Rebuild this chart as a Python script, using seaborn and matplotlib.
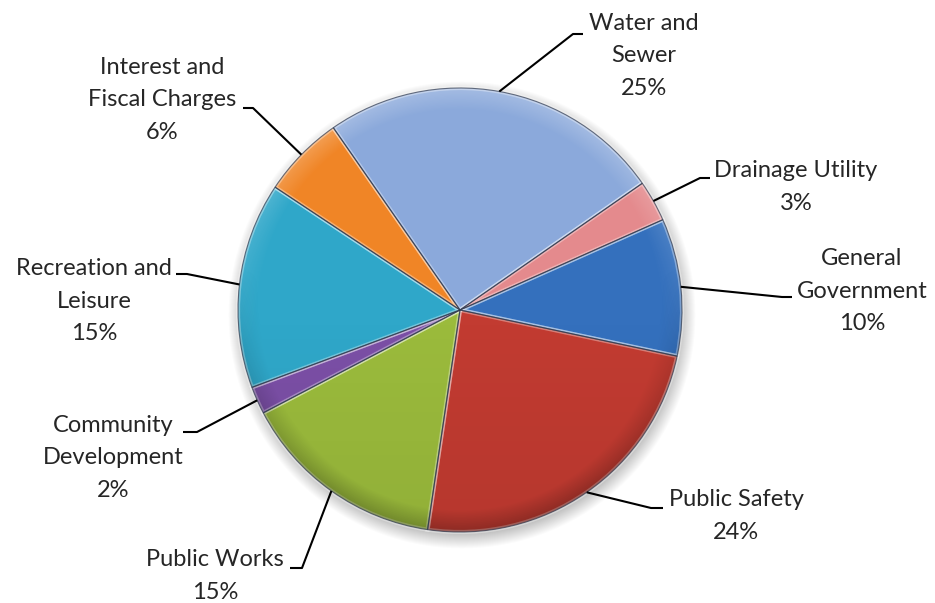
import numpy as np
import matplotlib
matplotlib.use("Agg")
import matplotlib.pyplot as plt
import seaborn as sns
from matplotlib.patches import Circle

# Data (clockwise from the General Government / Drainage Utility boundary)
categories = ["General\nGovernment", "Public Safety", "Public Works", "Community\nDevelopment",
              "Recreation and\nLeisure", "Interest and\nFiscal Charges", "Water and\nSewer",
              "Drainage Utility"]
shares = [10, 24, 15, 2, 15, 6, 25, 3]
colors = ["#3470bd", "#c23b31", "#9bbb3c", "#7b4fa6", "#2fa7c9", "#f08526", "#8ba9db", "#e48a8d"]

# label layout in pixels of the 935x603 canvas (y measured from the top)
label_pos = [(862, 291), (736, 516), (215, 576), (113, 458), (94, 301), (162, 100), (644, 56), (796, 187)]
elbow_pos = [(782, 297), (651, 508), (302, 568), (197, 432), (187, 274), (253, 108), (573, 34), (700, 178)]
tail_end_x = [792, 663, 290, 183, 176, 243, 583, 710]

W, H = 935, 603
cx, cy, R = 460, H - 310, 222

sns.set_theme(style="white")
plt.rcParams['font.family'] = ['Lato', 'DejaVu Sans']

fig = plt.figure(figsize=(9.35, 6.03), dpi=100)
ax = fig.add_axes([0, 0, 1, 1])

# soft drop shadow behind the pie
yy, xx = np.mgrid[0:H, 0:W] + 0.5
d_sh = np.hypot(xx - cx - 2, yy - (cy - 5))
shadow = np.zeros((H, W, 4))
shadow[..., 3] = np.clip((R + 12 - d_sh) / 22, 0, 1) * 0.35
ax.imshow(shadow, extent=(0, W, 0, H), origin='lower', zorder=0)

palette = sns.color_palette(colors)
wedges, _ = ax.pie(shares, colors=palette, startangle=24, counterclock=False,
                   center=(cx, cy), radius=R,
                   wedgeprops=dict(edgecolor=(1, 1, 1, 0.35), linewidth=3.0, zorder=1))
ax.pie(shares, colors=["none"] * len(shares), startangle=24, counterclock=False,
       center=(cx, cy), radius=R,
       wedgeprops=dict(edgecolor=(0.18, 0.22, 0.3, 0.7), linewidth=0.8, zorder=3))

# bevel-like shading over the pie
clip = Circle((cx, cy), R, transform=ax.transData, fc='none', ec='none')
d0 = np.hypot(xx - cx, yy - cy)
rim = np.clip((d0 - (R - 22)) / 22, 0, 1)
vert = (yy - cy) / R
hi = np.zeros((H, W, 4))
hi[..., :3] = 1
hi[..., 3] = 0.22 * rim * np.clip(vert + 0.2, 0, 1)
lo = np.zeros((H, W, 4))
lo[..., 3] = 0.22 * rim * np.clip(-vert + 0.2, 0, 1) + 0.06 * np.clip(-vert, 0, 1)
for layer in (hi, lo):
    im = ax.imshow(layer, extent=(0, W, 0, H), origin='lower', zorder=2)
    im.set_clip_path(clip)

# labels with leader lines
for w, cat, share, (lx, ly), (ex, ey), tx in zip(wedges, categories, shares,
                                                 label_pos, elbow_pos, tail_end_x):
    mid = np.deg2rad((w.theta1 + w.theta2) / 2)
    ax0, ay0 = cx + R * np.cos(mid), cy + R * np.sin(mid)
    ax.plot([ax0, ex, tx], [ay0, H - ey, H - ey], color='black', lw=1.5,
            solid_capstyle='butt', zorder=4)
    ax.text(lx, H - ly, f"{cat}\n{share}%", ha='center', va='center', fontsize=17,
            linespacing=1.67, color='#262626', zorder=5)

ax.set_xlim(0, W)
ax.set_ylim(0, H)
ax.set_aspect('equal')
ax.axis('off')

fig.savefig("out.png", dpi=100, facecolor='white')
